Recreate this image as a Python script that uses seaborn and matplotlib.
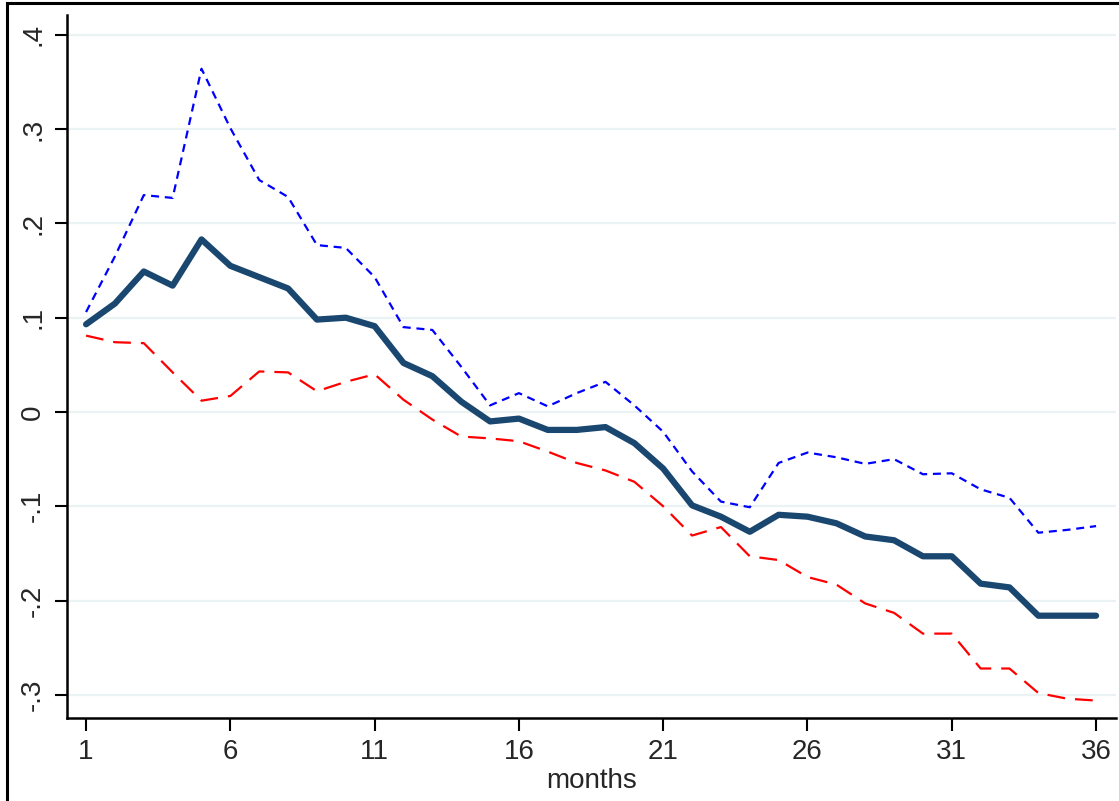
import numpy as np
import pandas as pd
import matplotlib
matplotlib.use("Agg")
import matplotlib.pyplot as plt
from matplotlib.patches import Rectangle
import seaborn as sns

# values
months = list(range(1, 37))
estimate = [0.093, 0.115, 0.149, 0.134, 0.183, 0.155, 0.143, 0.131, 0.098, 0.100,
            0.091, 0.052, 0.038, 0.011, -0.010, -0.007, -0.019, -0.019, -0.016, -0.033,
            -0.060, -0.099, -0.111, -0.127, -0.109, -0.111, -0.118, -0.132, -0.136, -0.153,
            -0.153, -0.182, -0.186, -0.216, -0.216, -0.216]
upper = [0.106, 0.165, 0.230, 0.227, 0.364, 0.301, 0.246, 0.228, 0.177, 0.174,
         0.143, 0.090, 0.087, 0.048, 0.007, 0.020, 0.006, 0.020, 0.032, 0.007,
         -0.021, -0.063, -0.095, -0.101, -0.054, -0.043, -0.048, -0.055, -0.050, -0.066,
         -0.065, -0.082, -0.091, -0.128, -0.125, -0.121]
lower = [0.081, 0.074, 0.073, 0.042, 0.012, 0.017, 0.043, 0.042, 0.022, 0.032,
         0.040, 0.013, -0.008, -0.026, -0.028, -0.031, -0.042, -0.054, -0.062, -0.074,
         -0.100, -0.131, -0.122, -0.153, -0.157, -0.175, -0.183, -0.203, -0.213, -0.235,
         -0.235, -0.272, -0.272, -0.298, -0.304, -0.306]
xticks = [1, 6, 11, 16, 21, 26, 31, 36]
yticks = [-0.3, -0.2, -0.1, 0, 0.1, 0.2, 0.3, 0.4]
ylabels = ["-.3", "-.2", "-.1", "0", ".1", ".2", ".3", ".4"]

df = pd.DataFrame({"months": months, "est": estimate, "hi": upper, "lo": lower})

sns.set_style("white")
plt.rcParams["font.family"] = ["Liberation Sans", "DejaVu Sans"]

fig = plt.figure(figsize=(11.19, 8.01), dpi=100)
ax = fig.add_axes([0.0599, 0.1036, 0.9374, 0.8777])

for y in yticks:
    ax.axhline(y, color="#eaf2f3", lw=1.6, zorder=0)

sns.lineplot(data=df, x="months", y="hi", ax=ax, color="#0000ff", lw=1.6,
             linestyle=(0, (3.6, 2.6)))
sns.lineplot(data=df, x="months", y="lo", ax=ax, color="#ff0000", lw=1.6,
             linestyle=(0, (8, 4.5)))
sns.lineplot(data=df, x="months", y="est", ax=ax, color="#1a476f", lw=4.5,
             solid_capstyle="round", solid_joinstyle="round")

ax.set_xlim(0.34, 36.69)
ax.set_ylim(-0.3245, 0.421)
ax.set_xticks(xticks)
ax.set_xticklabels([str(t) for t in xticks], fontsize=20)
ax.set_yticks(yticks)
ax.set_yticklabels(ylabels, fontsize=20, rotation=90, va="center")
ax.tick_params(axis="both", direction="out", length=9, width=1.5, color="black",
               bottom=True, left=True, pad=6)
ax.set_xlabel("months", fontsize=20, labelpad=2)
ax.set_ylabel("")

for s in ["top", "right"]:
    ax.spines[s].set_visible(False)
for s in ["left", "bottom"]:
    ax.spines[s].set_color("black")
    ax.spines[s].set_linewidth(1.8)

# outer frame (only top and left edges fall inside the picture)
fig.patches.append(Rectangle((0.0063, -0.1), 1.2, 1.0963, transform=fig.transFigure,
                             fill=False, ec="black", lw=2.2))

fig.savefig("out.png", dpi=100)
